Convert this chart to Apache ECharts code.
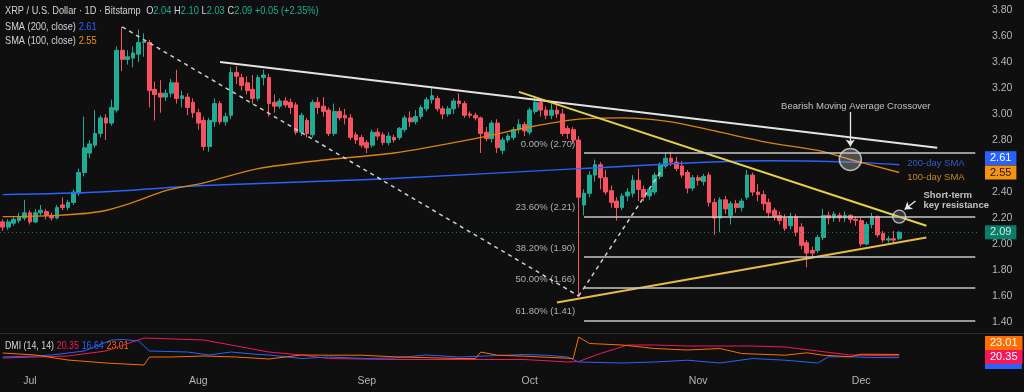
<!DOCTYPE html>
<html><head><meta charset="utf-8">
<script src="https://cdn.jsdelivr.net/npm/echarts@6/dist/echarts.min.js"></script>
<style>html,body{margin:0;padding:0;background:#0f0f0f}#c{width:1024px;height:392px}</style>
</head><body><div id="c"></div>
<script>
// ---------- DATA ----------
const startDate = [2025, 5, 26];   // 26 Jun 2025 (month 0-based)
const dayCount = 180;              // daily categories incl. empty space on the right
const monthNames = ['Jan','Feb','Mar','Apr','May','Jun','Jul','Aug','Sep','Oct','Nov','Dec'];

const opens = [
2.17,2.13,2.16,2.18,2.20,2.24,2.17,2.24,2.25,2.22,
2.20,2.30,2.28,2.32,2.39,2.55,2.70,2.76,2.85,2.97,
2.93,3.03,3.49,3.42,3.43,3.46,3.55,3.55,3.19,3.16,
3.13,3.16,3.24,3.12,3.13,3.09,3.01,2.95,2.75,2.94,
3.08,2.94,2.99,3.32,3.28,3.24,3.19,3.12,3.28,3.28,
3.09,3.06,3.10,3.09,3.07,2.86,2.95,2.84,3.09,3.06,
3.03,2.85,3.02,2.99,2.97,2.84,2.82,2.78,2.76,2.86,
2.84,2.78,2.82,2.82,2.88,2.97,2.94,2.98,3.04,3.11,
3.12,3.04,3.00,3.04,3.10,3.08,3.00,2.99,2.97,2.86,
2.81,2.93,2.72,2.80,2.82,2.88,2.92,2.86,3.02,3.09,
3.03,2.99,3.03,3.00,2.89,2.88,2.80,2.30,2.39,2.53,
2.61,2.51,2.41,2.33,2.28,2.37,2.39,2.49,2.42,2.37,
2.40,2.52,2.60,2.66,2.63,2.60,2.55,2.43,2.51,2.48,
2.53,2.32,2.20,2.34,2.22,2.31,2.28,2.36,2.53,2.40,
2.38,2.32,2.26,2.22,2.20,2.14,2.21,2.13,2.01,1.95,
1.95,2.05,2.22,2.20,2.22,2.20,2.22,2.19,2.18,2.00,
2.15,2.21,2.08,2.03,2.04,2.04];
const closes = [
2.13,2.17,2.19,2.21,2.24,2.17,2.24,2.26,2.22,2.20,
2.28,2.28,2.32,2.40,2.55,2.74,2.77,2.85,2.97,2.93,
3.05,3.49,3.42,3.44,3.47,3.55,3.56,3.18,3.15,3.13,
3.16,3.24,3.12,3.14,3.05,3.01,2.93,2.75,2.95,3.08,
2.94,2.98,3.32,3.29,3.22,3.18,3.12,3.28,3.30,3.08,
3.06,3.10,3.07,3.05,2.86,2.99,2.85,3.09,3.05,3.02,
2.85,3.02,2.97,2.97,2.82,2.80,2.76,2.74,2.86,2.83,
2.78,2.83,2.80,2.89,2.97,2.94,2.98,3.05,3.11,3.14,
3.04,3.00,3.04,3.10,3.08,2.99,2.99,2.97,2.85,2.81,
2.93,2.74,2.80,2.83,2.88,2.92,2.87,3.03,3.09,3.03,
2.99,3.03,3.00,2.85,2.85,2.80,2.36,2.39,2.53,2.61,
2.51,2.40,2.32,2.28,2.37,2.40,2.49,2.42,2.36,2.42,
2.53,2.61,2.66,2.63,2.58,2.53,2.43,2.51,2.49,2.52,
2.32,2.20,2.34,2.27,2.31,2.28,2.33,2.53,2.40,2.38,
2.31,2.24,2.21,2.18,2.12,2.21,2.09,1.99,1.93,1.93,
2.05,2.22,2.20,2.23,2.20,2.22,2.19,2.18,2.00,2.15,
2.21,2.07,2.03,2.04,2.03,2.09];
const lows = [
2.10,2.11,2.14,2.16,2.18,2.15,2.16,2.22,2.19,2.18,
2.19,2.26,2.26,2.30,2.37,2.52,2.66,2.74,2.82,2.80,
2.91,3.01,3.33,3.38,3.36,3.40,3.44,3.05,2.95,3.01,
3.10,3.13,3.08,3.05,2.99,2.97,2.88,2.72,2.71,2.90,
2.92,2.91,2.96,3.23,3.18,3.15,3.08,3.10,3.22,2.98,
3.01,3.04,3.05,3.00,2.84,2.83,2.82,2.82,3.00,2.98,
2.83,2.83,2.95,2.92,2.80,2.77,2.74,2.70,2.74,2.80,
2.76,2.76,2.78,2.80,2.86,2.90,2.92,2.96,3.02,3.08,
3.02,2.96,2.98,3.00,3.05,2.97,2.97,2.95,2.70,2.79,
2.78,2.70,2.69,2.78,2.80,2.85,2.83,2.84,3.00,2.98,
2.96,2.96,2.97,2.83,2.81,2.77,1.59,2.22,2.36,2.48,
2.42,2.38,2.28,2.18,2.26,2.33,2.36,2.33,2.33,2.34,
2.38,2.50,2.58,2.60,2.56,2.51,2.39,2.41,2.45,2.45,
2.29,2.07,2.09,2.23,2.15,2.24,2.25,2.34,2.37,2.33,
2.26,2.20,2.18,2.15,2.10,2.11,2.06,1.96,1.82,1.89,
1.93,2.03,2.15,2.17,2.17,2.17,2.16,2.14,1.98,1.99,
2.12,2.05,2.01,2.01,2.00,2.03];
const highs = [
2.19,2.19,2.21,2.24,2.34,2.26,2.27,2.30,2.27,2.24,
2.30,2.36,2.34,2.42,2.58,2.98,2.80,3.03,2.99,3.00,
3.11,3.52,3.67,3.49,3.52,3.65,3.62,3.57,3.25,3.26,
3.19,3.27,3.34,3.18,3.16,3.12,3.04,2.98,2.97,3.12,
3.10,3.01,3.36,3.37,3.31,3.29,3.30,3.30,3.34,3.31,
3.15,3.12,3.13,3.12,3.09,3.01,2.97,3.11,3.13,3.13,
3.05,3.08,3.05,3.04,3.00,2.86,2.84,2.80,2.88,2.89,
2.86,2.86,2.84,2.90,2.99,3.02,3.03,3.07,3.13,3.20,
3.14,3.06,3.06,3.12,3.16,3.10,3.02,3.01,2.98,2.90,
2.95,2.96,2.82,2.85,2.90,2.96,2.94,3.05,3.14,3.12,
3.06,3.08,3.07,3.04,2.91,2.90,2.83,2.42,2.56,2.65,
2.63,2.57,2.45,2.36,2.39,2.43,2.53,2.58,2.45,2.44,
2.55,2.63,2.70,2.71,2.67,2.64,2.57,2.53,2.53,2.54,
2.55,2.35,2.36,2.37,2.33,2.34,2.35,2.57,2.55,2.46,
2.41,2.35,2.28,2.25,2.23,2.24,2.23,2.16,2.03,1.98,
2.07,2.27,2.25,2.25,2.24,2.25,2.23,2.21,2.20,2.17,
2.24,2.22,2.10,2.06,2.10,2.10];

// moving averages: [day index, value]
const sma200 = [[0,2.38],[18,2.40],[37,2.45],[70,2.50],[106,2.58],[141,2.64],[156,2.63],[165,2.61]];
const sma100 = [[0,2.21],[10,2.22],[18,2.25],[24,2.32],[30,2.41],[37,2.47],[47,2.58],[60,2.65],[72,2.70],
  [88,2.82],[97,2.90],[106,2.96],[114,2.97],[123,2.94],[132,2.86],[141,2.78],[150,2.72],[156,2.65],[165,2.55]];

// DMI (14,14): [day index, value]
const dmiAdx = [[0,16],[12,20],[19,30],[26,56],[37,52],[49,28],[55,22],[60,15],[72,13],[84,13],[96,13],
  [104,8],[106,9],[110,25],[115,42],[120,42],[126,40],[132,40],[138,40],[144,38],[150,30],[156,22],[160,21],[165,20.35]];
const dmiPlus = [[0,18],[6,20],[9,22],[15,30],[20,52],[22,53],[25,50],[27,30],[34,28],[38,22],[42,28],[46,24],
  [49,22],[55,15],[60,18],[67,15],[72,16],[78,22],[84,18],[96,23],[100,21.6],[104,18],[106,8],[114,6],[120,8],
  [126,11.6],[132,6],[138,15],[144,11.6],[150,6],[152,18.4],[156,18.4],[160,17],[165,16.64]];
const dmiMinus = [[0,26],[6,22],[12,12],[19,6],[26,2],[27,18],[31,18],[37,20],[43,18],[49,14],[55,22],[60,21.6],
  [66,21.6],[72,18.4],[84,15],[87,15],[88,28],[91,21.6],[96,19.6],[105,15],[106,58],[108,45],[114,42],[120,35],
  [126,32],[132,35],[136,25],[144,21.6],[148,26.4],[151,21.6],[156,18.4],[158,23.6],[165,23.01]];

const priceTicks = [1.4,1.6,1.8,2.0,2.2,2.4,2.8,3.0,3.2,3.4,3.6,3.8];
const fibLevels = [['0.00%',2.70],['23.60%',2.21],['38.20%',1.90],['50.00%',1.66],['61.80%',1.41]];
const lastPrice = 2.09, sma200Last = 2.61, sma100Last = 2.55;
const adxLast = 20.35, plusLast = 16.64, minusLast = 23.01;

// ---------- BUILD ----------
const dates = [];
const d0 = Date.UTC(startDate[0], startDate[1], startDate[2]);
for (let i = 0; i < dayCount; i++) dates.push(new Date(d0 + i * 864e5).toISOString().slice(0, 10));
const candleData = opens.map((o, i) => [o, closes[i], lows[i], highs[i]]);

const FONT = "'Liberation Sans',Arial,sans-serif";
const UP = '#22ab94', DOWN = '#f7525f', BLUE = '#2962ff', ORANGE = '#f59212';
const ADXC = '#f2185a', PDI = '#2962ff', MDI = '#ff6d00';
const AXC = '#b2b5be';
const HIDDEN = {color: 'rgba(0,0,0,0)', width: 0.01};

function seg(a, b, style) { return [{coord: a, lineStyle: style}, {coord: b}]; }
function tag(y, txt, bg, fg) {
  return {yAxis: y, lineStyle: HIDDEN,
    label: {show: true, position: 'end', distance: 7, formatter: txt, backgroundColor: bg,
      color: fg || '#fff', padding: [2, 5, 1, 5], fontSize: 11, fontFamily: FONT}};
}
function note(idx, price, text, pos, style) {
  return {value: [idx, price], label: Object.assign({show: true, position: pos, distance: 2,
    formatter: text, fontFamily: FONT, fontSize: 10, color: '#e6e6e6'}, style || {})};
}

const fibStyle = {color: '#c9c9c9', width: 1.5, type: 'solid'};
const trendLines = [
  seg([40, 3.40], [172, 2.74], {color: '#e3e3e3', width: 2, type: 'solid'}),
  seg([95, 3.17], [170, 2.14], {color: '#e6d24a', width: 2, type: 'solid'}),
  seg([102, 1.55], [170, 2.05], {color: '#e9b949', width: 2, type: 'solid'}),
  seg([22, 3.67], [106, 1.60], {color: '#cfcfcf', width: 1.5, type: [4, 4]}),
  seg([106, 1.60], [121, 2.55], {color: '#cfcfcf', width: 1.5, type: [4, 4]})
].concat(fibLevels.map(f => seg([107, f[1]], [dayCount - 1, f[1]], fibStyle)));

const notes = fibLevels.map(f => note(106, f[1] + 0.069, f[0] + ' (' + f[1].toFixed(2) + ')', 'left', {color: '#d1d4dc', distance: 3, fontSize: 9.5}))
  .concat([
    note(157, 3.062, 'Bearish Moving Average Crossover', 'inside', {color: '#e8e8e8', fontSize: 9.5}),
    note(166, 2.623, '200-day SMA', 'right', {color: '#3d6df2', fontSize: 9.5}),
    note(166, 2.515, '100-day SMA', 'right', {color: '#f0a030', fontSize: 9.5}),
    note(169, 2.338, 'Short-term\nkey resistance', 'right', {color: '#ececec', fontWeight: 'bold', lineHeight: 10, fontSize: 9.5})
  ]);

function legend(top, text, rich) {
  return {type: 'text', left: 5, top: top, silent: true, scaleX: 0.84, originX: 0,
    style: {text: text, rich: rich}};
}
const rt = (c, s) => ({fill: c, fontSize: s || 11, fontFamily: FONT});

const option = {
  backgroundColor: '#0f0f0f',
  animation: false,
  textStyle: {fontFamily: FONT},
  grid: [
    {left: -4, right: 46, top: 0, height: 331},
    {left: -4, right: 46, top: 333, height: 36}
  ],
  xAxis: [
    {type: 'category', gridIndex: 0, data: dates, boundaryGap: true, show: false},
    {type: 'category', gridIndex: 1, data: dates, boundaryGap: true,
      axisLine: {show: false}, axisTick: {show: false}, splitLine: {show: false},
      axisLabel: {color: AXC, fontSize: 10.5, margin: 7, fontFamily: FONT,
        interval: (i, v) => v.slice(8) === '01',
        formatter: v => monthNames[+v.slice(5, 7) - 1]}}
  ],
  yAxis: [
    {type: 'value', gridIndex: 0, position: 'right', min: 1.3308, max: 3.8769, scale: true,
      axisLine: {show: false}, axisTick: {show: false}, splitLine: {show: false},
      axisLabel: {color: AXC, fontSize: 10.5, margin: 14, fontFamily: FONT, customValues: priceTicks,
        formatter: v => v.toFixed(2)}},
    {type: 'value', gridIndex: 1, position: 'right', min: -6, max: 66, show: false,
      splitLine: {show: false}}
  ],
  graphic: [
    {type: 'line', shape: {x1: 0, y1: 333.5, x2: 1024, y2: 333.5}, style: {stroke: '#2b2b2b', lineWidth: 1}, silent: true},
    legend(5, '{t|XRP / U.S. Dollar · 1D · Bitstamp}  {t|O}{g|2.04} {t|H}{g|2.10} {t|L}{g|2.03} {t|C}{g|2.09} {g|+0.05 (+2.35%)}',
      {t: rt('#d1d4dc'), g: rt(UP)}),
    legend(21, '{t|SMA (200, close)} {b|' + sma200Last.toFixed(2) + '}', {t: rt('#d1d4dc'), b: rt(BLUE)}),
    legend(35, '{t|SMA (100, close)} {o|' + sma100Last.toFixed(2) + '}', {t: rt('#d1d4dc'), o: rt(ORANGE)}),
    legend(340, '{t|DMI (14, 14)} {r|' + adxLast.toFixed(2) + '} {b|' + plusLast.toFixed(2) + '} {o|' + minusLast.toFixed(2) + '}',
      {t: rt('#d1d4dc', 10.5), r: rt(ADXC, 10.5), b: rt(PDI, 10.5), o: rt(MDI, 10.5)})
  ],
  series: [
    {name: 'XRP', type: 'candlestick', xAxisIndex: 0, yAxisIndex: 0, data: candleData, barWidth: '78%',
      itemStyle: {color: UP, color0: DOWN, borderColor: UP, borderColor0: DOWN, borderWidth: 1},
      markLine: {silent: true, symbol: ['none', 'none'], label: {show: false}, data: trendLines}},
    {name: 'SMA 200', type: 'line', xAxisIndex: 0, yAxisIndex: 0, data: sma200, showSymbol: false, smooth: 0.3,
      clip: false, lineStyle: {color: BLUE, width: 1.4}, z: 3,
      markLine: {silent: true, symbol: ['none', 'none'], data: [tag(2.656, sma200Last.toFixed(2), BLUE)]}},
    {name: 'SMA 100', type: 'line', xAxisIndex: 0, yAxisIndex: 0, data: sma100, showSymbol: false, smooth: 0.3,
      clip: false, lineStyle: {color: '#d98412', width: 1.3}, z: 3,
      markLine: {silent: true, symbol: ['none', 'none'], data: [
        tag(2.55, sma100Last.toFixed(2), ORANGE, '#1a1a1a'),
        Object.assign(tag(lastPrice, lastPrice.toFixed(2), '#089981'),
          {lineStyle: {color: '#089981', width: 1, type: [1, 3], opacity: 0.8}})
      ]}},
    {name: 'notes', type: 'scatter', xAxisIndex: 0, yAxisIndex: 0, symbolSize: 1, clip: false, z: 6,
      itemStyle: {color: 'rgba(0,0,0,0)'}, data: notes,
      markLine: {silent: true, symbol: ['none', 'arrow'], symbolSize: 7, label: {show: false},
        lineStyle: {color: '#e6e6e6', width: 1.3, type: 'solid'},
        data: [[{coord: [156, 3.015]}, {coord: [156, 2.75]}], [{coord: [168, 2.331]}, {coord: [166, 2.265]}]]}},
    {name: 'circles', type: 'scatter', xAxisIndex: 0, yAxisIndex: 0, z: 5,
      data: [
        {value: [156, 2.65], symbolSize: 22, itemStyle: {color: 'rgba(190,190,190,0.45)', borderColor: '#d8d8d8', borderWidth: 1.5}},
        {value: [165, 2.21], symbolSize: 13, itemStyle: {color: 'rgba(160,160,160,0.35)', borderColor: '#e0e0e0', borderWidth: 1.3}}
      ]},
    {name: 'ADX', type: 'line', xAxisIndex: 1, yAxisIndex: 1, data: dmiAdx, showSymbol: false, clip: false,
      lineStyle: {color: ADXC, width: 1},
      markLine: {silent: true, symbol: ['none', 'none'], data: [tag(18, adxLast.toFixed(2), ADXC)]}},
    {name: '+DI', type: 'line', xAxisIndex: 1, yAxisIndex: 1, data: dmiPlus, showSymbol: false, clip: false,
      lineStyle: {color: PDI, width: 1},
      markLine: {silent: true, symbol: ['none', 'none'], data: [{yAxis: -1.2, lineStyle: HIDDEN,
        label: {show: true, position: 'end', distance: 7, formatter: ' ', backgroundColor: PDI, fontSize: 3,
          lineHeight: 3, padding: [1, 18, 1, 18]}}]}},
    {name: '-DI', type: 'line', xAxisIndex: 1, yAxisIndex: 1, data: dmiMinus, showSymbol: false, clip: false,
      lineStyle: {color: MDI, width: 1},
      markLine: {silent: true, symbol: ['none', 'none'], data: [tag(46, minusLast.toFixed(2), MDI)]}}
  ]
};
const chart = echarts.init(document.getElementById('c'));
chart.setOption(option);
</script></body></html>
